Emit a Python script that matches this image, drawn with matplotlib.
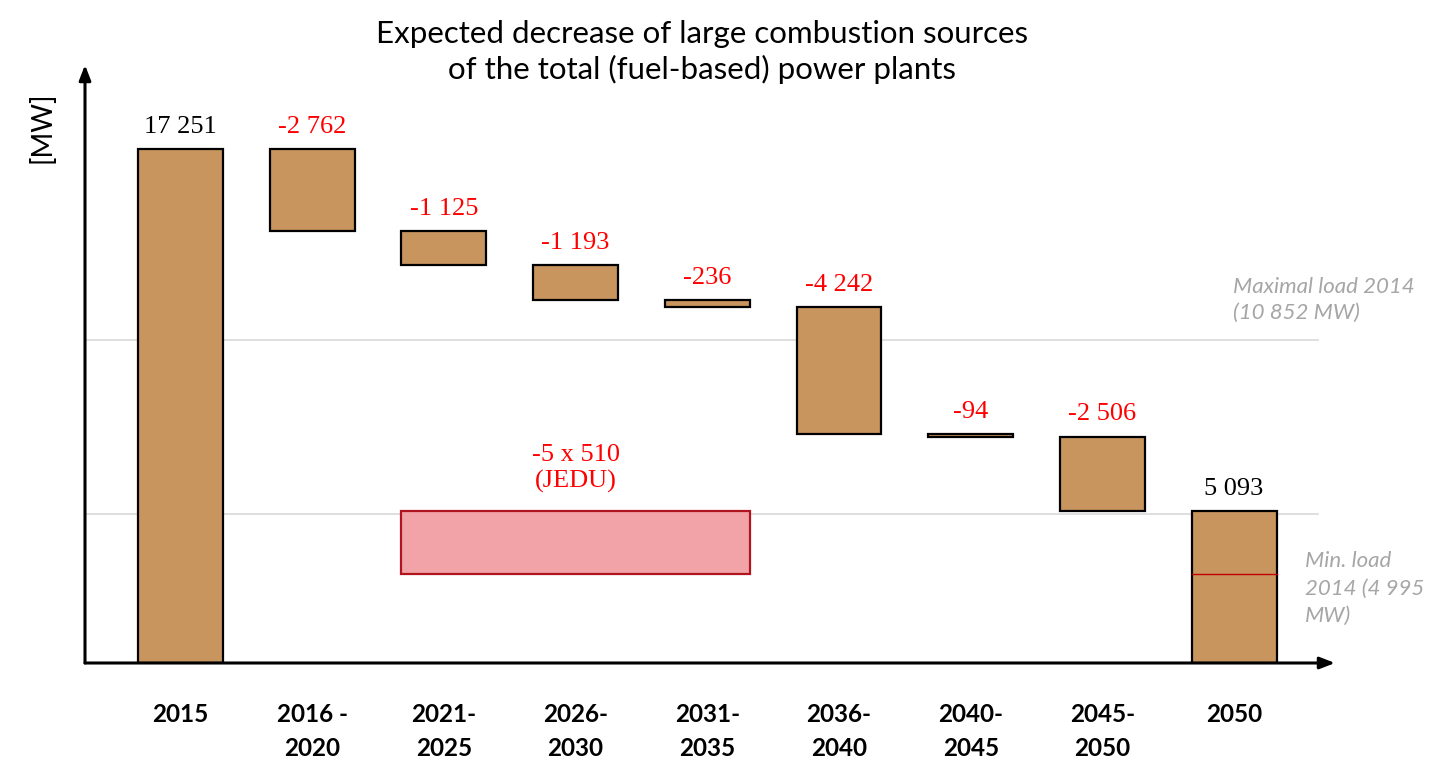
import numpy as np
import matplotlib
matplotlib.use("Agg")
from matplotlib import pyplot as plt
from matplotlib.patches import Rectangle

# data
categories = ["2015", "2016 -\n2020", "2021-\n2025", "2026-\n2030", "2031-\n2035",
              "2036-\n2040", "2040-\n2045", "2045-\n2050", "2050"]
start_value = 17251
changes = [-2762, -1125, -1193, -236, -4242, -94, -2506]
end_value = 5093
labels = ["17 251", "-2 762", "-1 125", "-1 193", "-236", "-4 242", "-94", "-2 506", "5 093"]

max_load = 10852
min_load = 4995
jedu_units = 5
jedu_unit_mw = 510
jedu_bottom = 2990   # level drawn in the picture
jedu_span = (2, 4)   # first and last category covered by the JEDU box

bar_color = "#c9955f"
red = "#ff0000"
grey_text = "#a6a6a6"

fig = plt.figure(figsize=(14.37, 7.6), dpi=100)
ax = fig.add_axes([85/1437, 97/760, 1250/1437, 598/760])
ax.set_xlim(-0.725, 8.766)
ax.set_ylim(0, 20070)
ax.axis("off")

w = 0.645

# gray reference lines
for lvl in [max_load, min_load]:
    ax.plot([-0.725, 8.64], [lvl, lvl], color="#d9d9d9", lw=1.2, zorder=1)

# waterfall bars
bottoms, heights = [0], [start_value]
level = start_value
for c in changes:
    bottoms.append(level + c)
    heights.append(-c)
    level += c
bottoms.append(0)
heights.append(end_value)

x = np.arange(len(categories))
ax.bar(x, heights, bottom=bottoms, width=w, color=bar_color, edgecolor="black",
       linewidth=1.6, zorder=3)

for i, lab in enumerate(labels):
    col = "black" if i in (0, len(labels) - 1) else red
    ax.annotate(lab, (x[i], bottoms[i] + heights[i]), xytext=(0, 8),
                textcoords="offset points", ha="center", va="bottom",
                fontsize=19, color=col, family="Liberation Serif")

# JEDU box
x0 = jedu_span[0] - w / 2
x1 = jedu_span[1] + w / 2
ax.add_patch(Rectangle((x0, jedu_bottom), x1 - x0, end_value - jedu_bottom,
                       facecolor="#f2a3a8", edgecolor="#b0141e", linewidth=1.6, zorder=3))
ax.annotate("-%d x %d\n(JEDU)" % (jedu_units, jedu_unit_mw),
            ((x0 + x1) / 2, end_value), xytext=(0, 13), textcoords="offset points",
            ha="center", va="bottom", fontsize=19, color=red,
            family="Liberation Serif", linespacing=1.25)
ax.plot([8 - w / 2, 8 + w / 2], [jedu_bottom, jedu_bottom], color="#c00000", lw=1, zorder=4)

# grey notes
ax.text(7.99, max_load + 550, "Maximal load 2014\n(10 852 MW)", ha="left", va="bottom",
        fontsize=16, style="italic", color=grey_text, family="Lato", linespacing=1.4)
ax.text(8.54, min_load - 1250, "Min. load\n2014 (4 995\nMW)", ha="left", va="top",
        fontsize=16, style="italic", color=grey_text, family="Lato", linespacing=1.45)

# axes arrows
arrow = dict(arrowstyle="-|>,head_width=0.35,head_length=0.9", color="black", lw=2.2,
             shrinkA=0, shrinkB=0)
ax.annotate("", xy=(0, 1), xytext=(0, 0), xycoords="axes fraction", arrowprops=arrow)
ax.annotate("", xy=(1, 0), xytext=(0, 0), xycoords="axes fraction", arrowprops=arrow)

# category labels
for i, cat in enumerate(categories):
    ax.text(x[i], -1350, cat, ha="center", va="top", fontsize=17.5, fontweight="bold",
            family="Lato", linespacing=1.55)

fig.text(42/1437, 1 - 127/760, "[MW]", rotation=90, ha="center", va="center",
         fontsize=20, family="Lato")
fig.text(702/1437, 1 - 52/760,
         "Expected decrease of large combustion sources\nof the total (fuel-based) power plants",
         ha="center", va="center", fontsize=22.5, family="Lato", linespacing=1.3)

fig.savefig("out.png", dpi=100)
